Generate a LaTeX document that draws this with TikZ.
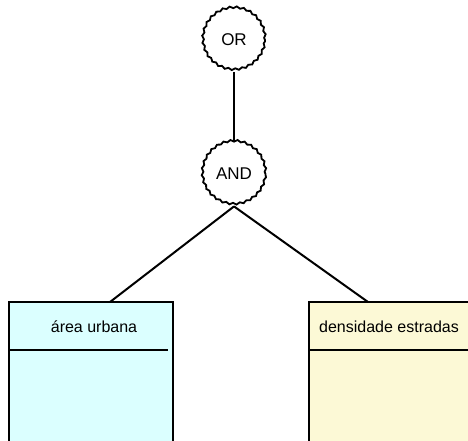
\documentclass[tikz,border=0pt]{standalone}
\usepackage{fontspec}
\setmainfont{Liberation Sans}
\usetikzlibrary{decorations.pathmorphing}
\definecolor{cyanfill}{HTML}{DBFFFF}
\definecolor{yelfill}{HTML}{FCF9D6}
\tikzset{
  x=1pt, y=-1pt,
  gate/.style={circle, draw, line width=1.8pt, fill=white, inner sep=0pt,
    font=\fontsize{17}{19}\selectfont,
    decorate, decoration={snake, segment length=7pt, amplitude=0.9pt}},
  conn/.style={line width=2pt},
  entbox/.style={draw, line width=2pt, rectangle, inner sep=0pt},
  lbl/.style={font=\fontsize{16}{18}\selectfont, inner sep=0pt}
}
\begin{document}
\begin{tikzpicture}
\useasboundingbox (0,0) rectangle (468,440);
\clip (0,0) rectangle (468,440);
% boxes
\draw[entbox, fill=cyanfill] (9,302) rectangle (173,470);
\draw[entbox, fill=yelfill] (309,302) rectangle (490,470);
\draw[conn] (9,350) -- (168,350);
\draw[conn] (309,350) -- (490,350);
\node[lbl] (la) at (94,327) {área urbana};
\node[lbl, anchor=west] (lb) at (319,327) {densidade estradas};
\coordinate (lt) at (110,302);
\coordinate (rt) at (368,302);
% gates
\node[gate, minimum size=62pt] (or) at (234,40) {OR};
\node[gate, minimum size=63pt] (and) at (234,174) {AND};
\draw[conn] (or.south) -- (and.north);
\draw[conn] (and.south) -- (lt);
\draw[conn] (and.south) -- (rt);
\end{tikzpicture}
\end{document}
